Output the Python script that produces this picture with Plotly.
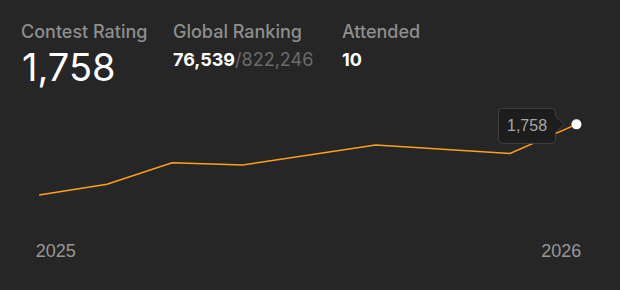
import plotly.graph_objects as go

# ---- data ----
dates = ["2024-12-20", "2025-02-07", "2025-03-26", "2025-05-16",
         "2025-08-20", "2025-11-25", "2026-01-12"]
ratings = [1500, 1539, 1618, 1610, 1683, 1652, 1758]
year_ticks = ["2025-01-01", "2026-01-01"]
year_labels = ["2025", "2026"]
contest_rating = 1758
global_rank = 76539
total_users = 822246
attended = 10

# ---- layout geometry ----
W, H = 620, 290
ML, MR, MT, MB = 35, 38, 100, 52
PW, PH = W - ML - MR, H - MT - MB


def px(x):
    return (x - ML) / PW


def py(y):
    return (H - MB - y) / PH


BG = "#262626"
ORANGE = "#ffa116"
LABEL = "#8e8e8e"
TOP_FONT = "Inter"
AX_FONT = "Liberation Sans"

fig = go.Figure()
fig.add_trace(go.Scatter(
    x=dates, y=ratings, mode="lines",
    line=dict(color=ORANGE, width=1.5), hoverinfo="skip", showlegend=False))
fig.add_trace(go.Scatter(
    x=[dates[-1]], y=[ratings[-1]], mode="markers",
    marker=dict(color="white", size=10, line=dict(width=0)),
    hoverinfo="skip", showlegend=False))

# tooltip callout (pixel path relative to last point)
tip_path = ("M -74,16 L -25,16 Q -21,16 -21,12 L -21,8 L -12,0 L -21,-8 "
            "L -21,-15 Q -21,-19 -25,-19 L -74,-19 Q -78,-19 -78,-15 "
            "L -78,12 Q -78,16 -74,16 Z")
fig.add_shape(type="path", xref="x", yref="y",
              xsizemode="pixel", ysizemode="pixel",
              xanchor=dates[-1], yanchor=ratings[-1],
              path=tip_path, fillcolor="#1d1d1d",
              line=dict(color="#404040", width=1), layer="above")

annotations = [
    dict(x=dates[-1], y=ratings[-1], xref="x", yref="y", xshift=-49.5,
         yshift=-1, text=f"{ratings[-1]:,}", showarrow=False,
         xanchor="center", yanchor="middle",
         font=dict(family=AX_FONT, size=16, color="#a8a8a8")),
    dict(x=px(19), y=py(31), text="Contest Rating",
         font=dict(family=TOP_FONT, size=18, color=LABEL, weight=500)),
    dict(x=px(171), y=py(31), text="Global Ranking",
         font=dict(family=TOP_FONT, size=18, color=LABEL, weight=500)),
    dict(x=px(340), y=py(31), text="Attended",
         font=dict(family=TOP_FONT, size=18, color=LABEL, weight=500)),
    dict(x=px(20), y=py(67), text=f"{contest_rating:,}",
         font=dict(family=TOP_FONT, size=38, color="white")),
    dict(x=px(171), y=py(59.5),
         text=f"<b>{global_rank:,}</b><span style='color:#6b6b6b'>/{total_users:,}</span>",
         font=dict(family=TOP_FONT, size=18, color="white")),
    dict(x=px(340), y=py(59.5), text=f"<b>{attended}</b>",
         font=dict(family=TOP_FONT, size=18, color="white")),
]
for a in annotations[1:]:
    a.update(xref="paper", yref="paper", showarrow=False,
             xanchor="left", yanchor="middle")

fig.update_layout(
    width=W, height=H,
    margin=dict(l=ML, r=MR, t=MT, b=MB, pad=0),
    paper_bgcolor=BG, plot_bgcolor=BG,
    annotations=annotations,
    hovermode=False,
    xaxis=dict(type="date", range=["2024-12-17", "2026-01-16"],
               tickvals=year_ticks, ticktext=year_labels,
               showgrid=False, zeroline=False, showline=False, ticks="",
               tickfont=dict(family=AX_FONT, size=18, color="#979797"),
               fixedrange=True),
    yaxis=dict(range=[1343, 1847], visible=False, fixedrange=True),
)

fig.write_html("out.html", config={"displayModeBar": False})
